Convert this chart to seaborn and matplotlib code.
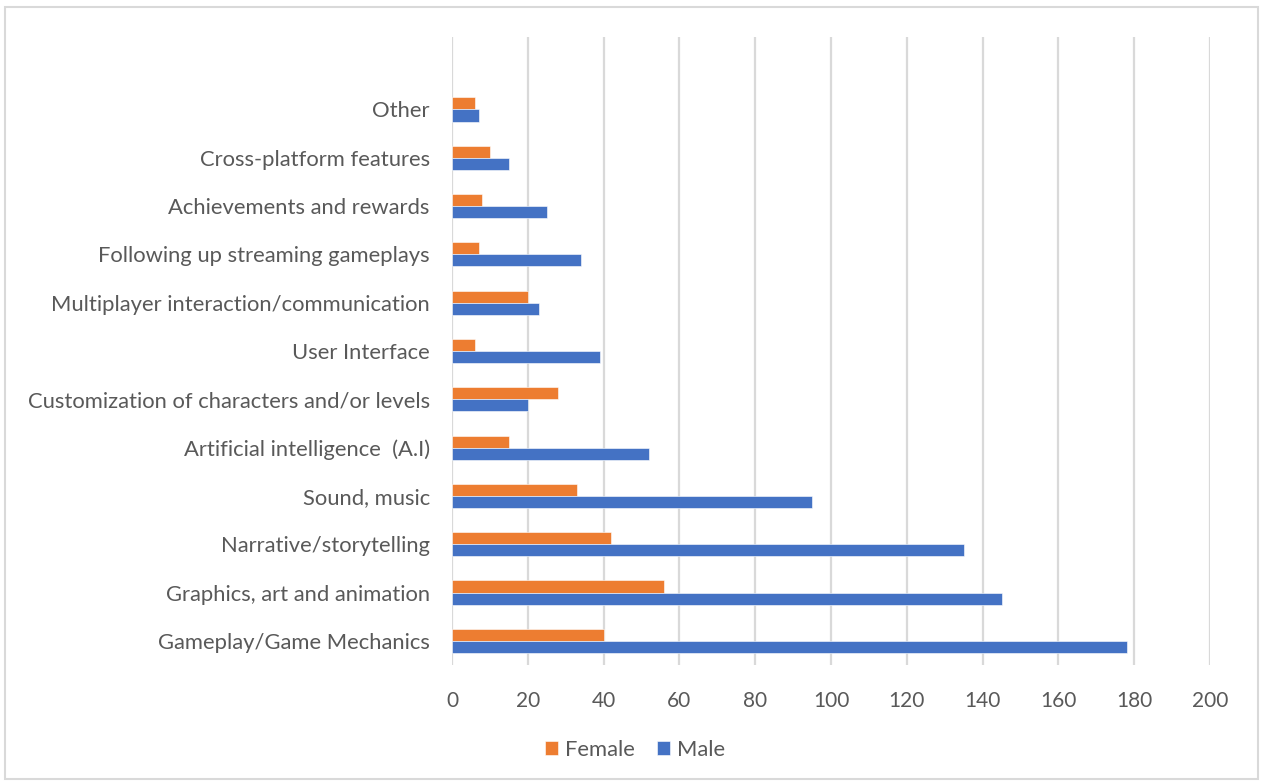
import matplotlib
matplotlib.use("Agg")
import matplotlib.pyplot as plt
from matplotlib.patches import Rectangle
import seaborn as sns
import pandas as pd

categories = [
    "Other",
    "Cross-platform features",
    "Achievements and rewards",
    "Following up streaming gameplays",
    "Multiplayer interaction/communication",
    "User Interface",
    "Customization of characters and/or levels",
    "Artificial intelligence  (A.I)",
    "Sound, music",
    "Narrative/storytelling",
    "Graphics, art and animation",
    "Gameplay/Game Mechanics",
]
female = [6, 10, 8, 7, 20, 6, 28, 15, 33, 42, 56, 40]
male = [7, 15, 25, 34, 23, 39, 20, 52, 95, 135, 145, 178]
series = ["Female", "Male"]
x_ticks = list(range(0, 201, 20))

df = pd.DataFrame({
    "Feature": categories * 2,
    "Count": female + male,
    "Gender": ["Female"] * len(categories) + ["Male"] * len(categories),
})

sns.set_theme(style="white")
plt.rcParams["font.family"] = ["Lato", "DejaVu Sans"]

text_color = "#595959"
grid_color = "#D9D9D9"
palette = {"Female": "#ED7D31", "Male": "#4472C4"}

fig = plt.figure(figsize=(12.65, 7.83), dpi=100)
ax = fig.add_axes([452 / 1265, 1 - 665 / 783, (1210 - 452) / 1265, (665 - 37) / 783])

sns.barplot(
    data=df, y="Feature", x="Count", hue="Gender",
    order=categories, hue_order=series, palette=palette,
    orient="h", width=0.5, ax=ax, legend=True,
    edgecolor="white", linewidth=0.4, saturation=1,
)

# one empty band above the first category
ax.set_ylim(len(categories) - 0.5, -1.5)
ax.set_xlim(0, 200)
ax.set_xticks(x_ticks)
ax.set_xticklabels([str(t) for t in x_ticks])
ax.xaxis.grid(True, color=grid_color, linewidth=1.6)
ax.yaxis.grid(False)
ax.set_axisbelow(True)
for s in ax.spines.values():
    s.set_visible(False)
ax.set_xlabel("")
ax.set_ylabel("")
ax.tick_params(axis="x", length=0, pad=19, labelsize=15, labelcolor=text_color)
ax.tick_params(axis="y", length=0, pad=16, labelsize=15.8, labelcolor=text_color)

handles, labels = ax.get_legend_handles_labels()
ax.legend_.remove()
fig.legend(
    handles, labels, loc="center", bbox_to_anchor=(635 / 1265, 1 - 750 / 783),
    ncol=2, frameon=False, fontsize=15.8, handlelength=0.6, handleheight=0.6,
    handletextpad=0.3, columnspacing=1.0, labelcolor=text_color,
)

fig.patches.append(Rectangle(
    (5 / 1265, 1 - 779 / 783), (1258 - 5) / 1265, (779 - 7) / 783,
    transform=fig.transFigure, fill=False, edgecolor=grid_color, linewidth=1.5,
))

fig.savefig("out.png", dpi=100, facecolor="white")
